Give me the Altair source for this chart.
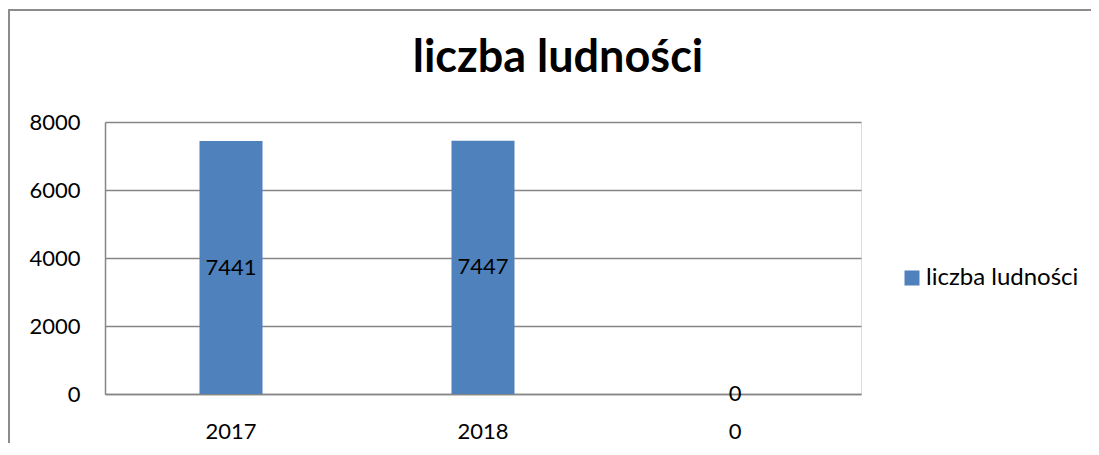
import altair as alt
import pandas as pd

categories = ["2017", "2018", "0"]
values = [7441, 7447, 0]
series_name = "liczba ludności"
y_ticks = [0, 2000, 4000, 6000, 8000]

df = pd.DataFrame({"rok": categories, "wartosc": values, "seria": [series_name] * len(categories)})

FONT = "Lato"
BLUE = "#4F81BD"
GRID = "#868686"
FRAME = "#8c8c8c"

PLOT_W, PLOT_H = 756, 272
PAD = {"left": 97, "top": 114, "right": 230, "bottom": 49}

base = alt.Chart(df)

bars = base.mark_bar(color=BLUE, size=63).encode(
    x=alt.X("rok:N", sort=None, title=None,
            scale=alt.Scale(paddingInner=0.75, paddingOuter=0.375),
            axis=alt.Axis(labelAngle=0, labelFontSize=22, labelFont=FONT, labelColor="black",
                          labelPadding=27, ticks=False, domainColor=GRID, domainWidth=1.5, grid=False)),
    y=alt.Y("wartosc:Q", title=None,
            scale=alt.Scale(domain=[0, 8000], nice=False),
            axis=alt.Axis(values=y_ticks, format="d", labelFontSize=22, labelFont=FONT, labelColor="black",
                          labelPadding=25, ticks=False, domainColor=GRID, domainWidth=1.5,
                          gridColor=GRID, gridWidth=1.5, gridOpacity=1)),
    color=alt.Color("seria:N", scale=alt.Scale(range=[BLUE]),
                    legend=alt.Legend(title=None, orient="none", legendX=795, legendY=144, padding=0,
                                      symbolType="square", symbolSize=225, symbolStrokeWidth=0,
                                      labelFontSize=24, labelFont=FONT, labelColor="black",
                                      labelOffset=2)),
)

labels = base.mark_text(fontSize=22, font=FONT, color="black", baseline="middle", align="center").encode(
    x=alt.X("rok:N", sort=None),
    y=alt.Y("half:Q"),
    text=alt.Text("wartosc:Q", format="d"),
).transform_calculate(half="datum.wartosc / 2")

one = pd.DataFrame({"a": [0]})
frame_left = alt.Chart(one).mark_rule(stroke=FRAME, strokeWidth=2).encode(
    x=alt.value(-96), y=alt.value(-112), y2=alt.value(PLOT_H + PAD["bottom"])
)
frame_top = alt.Chart(one).mark_rule(stroke=FRAME, strokeWidth=2).encode(
    x=alt.value(-97), x2=alt.value(PLOT_W + PAD["right"]), y=alt.value(-112)
)

chart = alt.layer(frame_left, frame_top, bars, labels).properties(
    width=PLOT_W,
    height=PLOT_H,
    title=alt.TitleParams(series_name, fontSize=45, font=FONT, fontWeight="bold", color="black",
                          anchor="middle", frame="group", dx=75, offset=0, dy=108, baseline="alphabetic"),
    autosize=alt.AutoSizeParams(type="none"),
    padding=PAD,
).configure_view(stroke=None).configure(background="white")

chart.save("out.html", embed_options={"renderer": "svg", "actions": False})
